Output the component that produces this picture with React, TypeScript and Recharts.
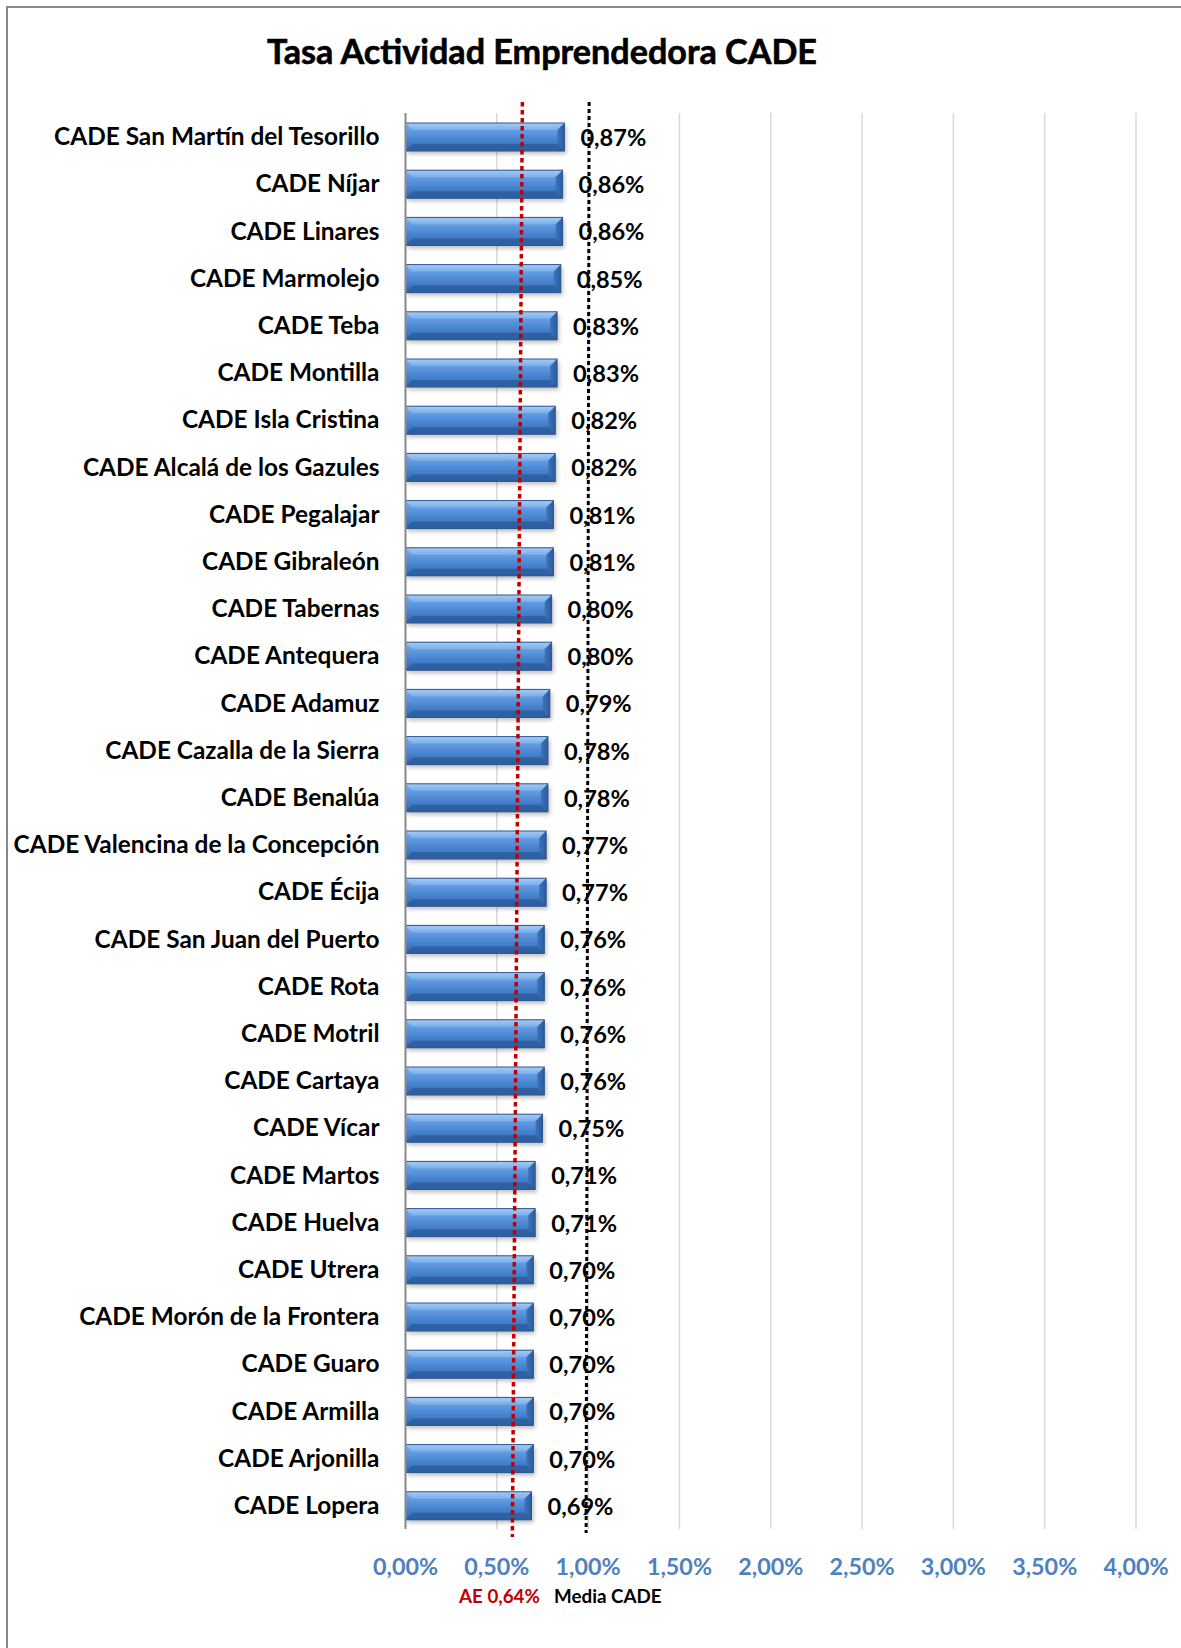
import React from 'react';
import {
  BarChart,
  Bar,
  XAxis,
  YAxis,
  CartesianGrid,
  ReferenceLine,
  LabelList,
} from 'recharts';

const categories: string[] = [
  'CADE San Martín del Tesorillo',
  'CADE Níjar',
  'CADE Linares',
  'CADE Marmolejo',
  'CADE Teba',
  'CADE Montilla',
  'CADE Isla Cristina',
  'CADE Alcalá de los Gazules',
  'CADE Pegalajar',
  'CADE Gibraleón',
  'CADE Tabernas',
  'CADE Antequera',
  'CADE Adamuz',
  'CADE Cazalla de la Sierra',
  'CADE Benalúa',
  'CADE Valencina de la Concepción',
  'CADE Écija',
  'CADE San Juan del Puerto',
  'CADE Rota',
  'CADE Motril',
  'CADE Cartaya',
  'CADE Vícar',
  'CADE Martos',
  'CADE Huelva',
  'CADE Utrera',
  'CADE Morón de la Frontera',
  'CADE Guaro',
  'CADE Armilla',
  'CADE Arjonilla',
  'CADE Lopera',
];

const tasa: number[] = [
  0.87, 0.86, 0.86, 0.85, 0.83, 0.83, 0.82, 0.82, 0.81, 0.81, 0.8, 0.8, 0.79,
  0.78, 0.78, 0.77, 0.77, 0.76, 0.76, 0.76, 0.76, 0.75, 0.71, 0.71, 0.7, 0.7,
  0.7, 0.7, 0.7, 0.69,
];

const xTicks: number[] = [0, 0.5, 1, 1.5, 2, 2.5, 3, 3.5, 4];

const aeValue = 0.64;
const mediaCade = 1.0;

const title = 'Tasa Actividad Emprendedora CADE';
const aeLabel = 'AE 0,64%';
const mediaLabel = 'Media CADE';

const data = categories.map((name, i) => ({ name, value: tasa[i] }));

const FONT = 'Lato, "Open Sans", sans-serif';

const fmt = (v: number) => v.toFixed(2).replace('.', ',') + '%';

const BarShape = (props: any) => {
  const { x, y, width, height } = props;
  if (!width || width <= 0) return null;
  const b = Math.min(7, height / 3);
  return (
    <g>
      <rect
        x={x + 2}
        y={y + 3}
        width={width}
        height={height}
        fill="#000"
        opacity={0.25}
        filter="url(#barShadow)"
      />
      <rect x={x} y={y} width={width} height={height} fill="url(#barGrad)" />
      <polygon
        points={`${x},${y} ${x + width},${y} ${x + width - b},${y + b} ${x + b},${y + b}`}
        fill="url(#barTopGrad)"
      />
      <polygon
        points={`${x + width},${y} ${x + width},${y + height} ${x + width - b},${y + height - b} ${x + width - b},${y + b}`}
        fill="url(#barRightGrad)"
      />
      <polygon
        points={`${x},${y + height} ${x + width},${y + height} ${x + width - b},${y + height - b} ${x + b},${y + height - b}`}
        fill="#2d5f9f"
        opacity={0.9}
      />
      <rect
        x={x}
        y={y}
        width={width}
        height={height}
        fill="none"
        stroke="#2a5690"
        strokeWidth={1}
      />
    </g>
  );
};

const YTick = (props: any) => {
  const { x, y, payload } = props;
  return (
    <text
      x={x}
      y={y}
      dy={8.5}
      textAnchor="end"
      fontFamily={FONT}
      fontWeight={700}
      fontSize={24.4}
      fill="#000"
    >
      {payload.value}
    </text>
  );
};

const XTick = (props: any) => {
  const { x, y, payload } = props;
  return (
    <text
      x={x}
      y={y}
      dy={44}
      textAnchor="middle"
      fontFamily={FONT}
      fontWeight={700}
      fontSize={23.3}
      fill="#4f81bd"
    >
      {fmt(payload.value)}
    </text>
  );
};

const ValueLabel = (props: any) => {
  const { x, y, width, height, value } = props;
  return (
    <text
      x={x + width + 16}
      y={y + height / 2}
      dy={9}
      textAnchor="start"
      fontFamily={FONT}
      fontWeight={700}
      fontSize={23.6}
      fill="#000"
    >
      {fmt(value)}
    </text>
  );
};

const makeLineShape =
  (color: string, topShift: number, bottomShift: number, topY: number, bottomY: number, dash: string, w: number) =>
  (props: any) => {
    const { x1 } = props;
    return (
      <line
        x1={x1 + topShift}
        y1={topY}
        x2={x1 + bottomShift}
        y2={bottomY}
        stroke={color}
        strokeWidth={w}
        strokeDasharray={dash}
      />
    );
  };

export default function App() {
  return (
    <div
      style={{
        position: 'absolute',
        left: 0,
        top: 0,
        width: 1181,
        height: 1648,
        background: '#fff',
        overflow: 'hidden',
      }}
    >
      <svg
        width={1181}
        height={1648}
        style={{ position: 'absolute', left: 0, top: 0 }}
      >
        <rect
          x={7}
          y={7}
          width={1190}
          height={1660}
          fill="#fff"
          stroke="#898989"
          strokeWidth={2}
        />
      </svg>
      <div style={{ position: 'absolute', left: 0, top: 0 }}>
        <BarChart
          width={1181}
          height={1648}
          data={data}
          layout="vertical"
          margin={{ top: 113, right: 45, bottom: 79, left: 0 }}
          barSize={28}
        >
          <defs>
            <linearGradient id="barGrad" x1="0" y1="0" x2="0" y2="1">
              <stop offset="0%" stopColor="#7fb2ee" />
              <stop offset="30%" stopColor="#5f99e0" />
              <stop offset="65%" stopColor="#4580cc" />
              <stop offset="100%" stopColor="#3567ad" />
            </linearGradient>
            <linearGradient id="barTopGrad" x1="0" y1="0" x2="0" y2="1">
              <stop offset="0%" stopColor="#a7ccf5" />
              <stop offset="100%" stopColor="#79adeb" />
            </linearGradient>
            <linearGradient id="barRightGrad" x1="0" y1="0" x2="1" y2="0">
              <stop offset="0%" stopColor="#3d73bb" />
              <stop offset="100%" stopColor="#2d5c9c" />
            </linearGradient>
            <filter id="barShadow" x="-10%" y="-50%" width="120%" height="200%">
              <feGaussianBlur stdDeviation="2" />
            </filter>
          </defs>
          <CartesianGrid
            horizontal={false}
            vertical={true}
            stroke="#d9d9d9"
            strokeWidth={1.5}
          />
          <XAxis
            type="number"
            domain={[0, 4]}
            ticks={xTicks}
            axisLine={false}
            tickLine={false}
            tickSize={0}
            height={40}
            tick={<XTick />}
            interval={0}
          />
          <YAxis
            type="category"
            dataKey="name"
            width={405.5}
            axisLine={{ stroke: '#8c8c8c', strokeWidth: 2 }}
            tickLine={false}
            tickSize={0}
            tickMargin={26}
            tick={<YTick />}
            interval={0}
          />
          <Bar
            dataKey="value"
            shape={<BarShape />}
            isAnimationActive={false}
          >
            <LabelList dataKey="value" content={<ValueLabel />} />
          </Bar>
          <ReferenceLine
            x={aeValue}
            ifOverflow="visible"
            shape={makeLineShape('#c00000', 0, -10, 102, 1537, '4.5 3.5', 3.5)}
          />
          <ReferenceLine
            x={mediaCade}
            ifOverflow="visible"
            shape={makeLineShape('#000000', 1, -2, 102, 1533, '4 3', 3)}
          />
        </BarChart>
      </div>
      <svg
        width={1181}
        height={1648}
        style={{ position: 'absolute', left: 0, top: 0, pointerEvents: 'none' }}
      >
        <text
          x={267}
          y={64}
          textLength={550}
          lengthAdjust="spacingAndGlyphs"
          fontFamily={FONT}
          fontWeight={700}
          fontSize={35}
          fill="#000"
          stroke="#000"
          strokeWidth={0.6}
        >
          {title}
        </text>
        <text
          x={459}
          y={1603}
          fontFamily={FONT}
          fontWeight={700}
          fontSize={18.8}
          fill="#c00000"
        >
          {aeLabel}
        </text>
        <text
          x={554}
          y={1603}
          fontFamily={FONT}
          fontWeight={700}
          fontSize={18.8}
          fill="#000"
        >
          {mediaLabel}
        </text>
      </svg>
    </div>
  );
}
